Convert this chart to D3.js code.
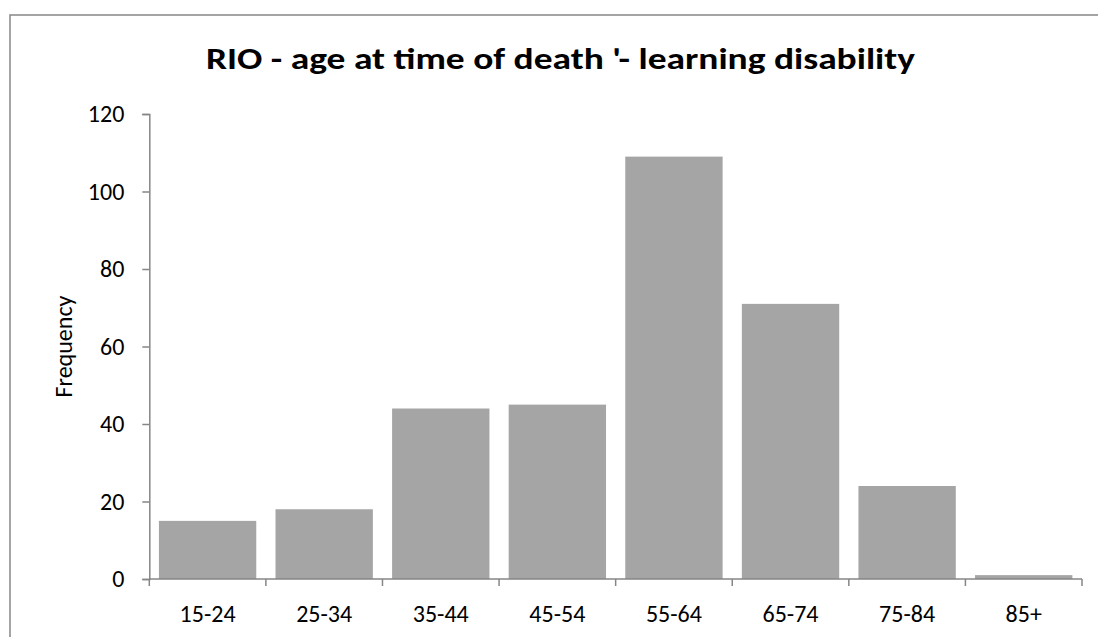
<!DOCTYPE html>
<html>
<head>
<meta charset="utf-8">
<script src="https://cdn.jsdelivr.net/npm/d3@7"></script>
<style>
  html, body { margin: 0; padding: 0; background: #fff; }
  svg { display: block; }
  text { font-family: Carlito, Calibri, "Liberation Sans", Arial, sans-serif; }
</style>
</head>
<body>
<svg id="chart" width="1098" height="637"></svg>
<script>
const categories = ["15-24", "25-34", "35-44", "45-54", "55-64", "65-74", "75-84", "85+"];
const values = [15, 18, 44, 45, 109, 71, 24, 1];
const yTicks = [0, 20, 40, 60, 80, 100, 120];
const titleText = "RIO - age at time of death '- learning disability";
const yLabel = "Frequency";

const svg = d3.select("#chart");
const W = 1098, H = 637;
const plot = { left: 149.3, right: 1082, top: 114, bottom: 579 };

// chart frame
svg.append("rect")
  .attr("x", 10).attr("y", 15)
  .attr("width", W + 20).attr("height", H + 20)
  .attr("fill", "#fff").attr("stroke", "#868686").attr("stroke-width", 1.5);

const x = d3.scaleBand().domain(categories)
  .range([plot.left, plot.right]).paddingInner(0.165).paddingOuter(0.0825);
const y = d3.scaleLinear().domain([0, 120]).range([plot.bottom, plot.top]);

// bars
svg.append("g").selectAll("rect").data(values).join("rect")
  .attr("x", (d, i) => x(categories[i]))
  .attr("y", d => y(d))
  .attr("width", x.bandwidth())
  .attr("height", d => y(0) - y(d))
  .attr("fill", "#a5a5a5");

// y axis
const yAxis = svg.append("g").attr("transform", `translate(${plot.left},0)`)
  .call(d3.axisLeft(y).tickValues(yTicks).tickSize(7).tickPadding(18));
yAxis.select(".domain").attr("stroke", "#868686").attr("stroke-width", 1.5);
yAxis.selectAll(".tick line").attr("stroke", "#868686").attr("stroke-width", 1.5);
yAxis.selectAll(".tick text").attr("font-size", 24).attr("fill", "#000")
  .attr("font-family", 'Carlito, Calibri, "Liberation Sans", Arial, sans-serif');

// x axis (ticks at category boundaries)
const xb = d3.scaleLinear().domain([0, categories.length]).range([plot.left, plot.right]);
const xAxisG = svg.append("g");
xAxisG.append("line")
  .attr("x1", plot.left).attr("x2", plot.right)
  .attr("y1", plot.bottom).attr("y2", plot.bottom)
  .attr("stroke", "#868686").attr("stroke-width", 1.5);
xAxisG.selectAll("line.tk").data(d3.range(categories.length + 1)).join("line")
  .attr("class", "tk")
  .attr("x1", d => xb(d)).attr("x2", d => xb(d))
  .attr("y1", plot.bottom).attr("y2", plot.bottom + 7)
  .attr("stroke", "#868686").attr("stroke-width", 1.5);
xAxisG.selectAll("text").data(categories).join("text")
  .attr("x", d => x(d) + x.bandwidth() / 2)
  .attr("y", 622)
  .attr("text-anchor", "middle")
  .attr("font-size", 24)
  .attr("fill", "#000")
  .text(d => d);

// y label
svg.append("text")
  .attr("transform", `translate(72,${(plot.top + plot.bottom) / 2}) rotate(-90)`)
  .attr("text-anchor", "middle")
  .attr("font-size", 24)
  .attr("fill", "#000")
  .text(yLabel);

// title
svg.append("text")
  .attr("x", 560.5).attr("y", 69)
  .attr("text-anchor", "middle")
  .attr("font-size", 31)
  .attr("font-weight", "bold")
  .attr("fill", "#000")
  .attr("textLength", 709)
  .attr("lengthAdjust", "spacingAndGlyphs")
  .text(titleText);
</script>
</body>
</html>
